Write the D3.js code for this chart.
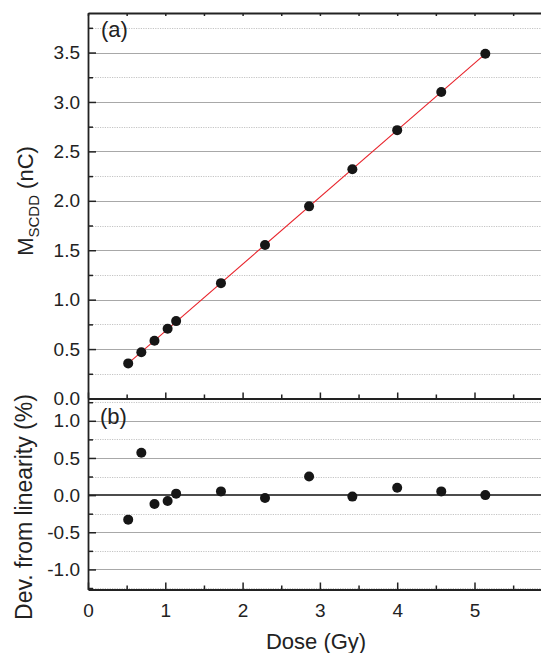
<!DOCTYPE html>
<html>
<head>
<meta charset="utf-8">
<script src="https://cdn.jsdelivr.net/npm/d3@7"></script>
<style>
  html, body { margin: 0; padding: 0; background: #fff; }
  svg { display: block; font-family: "Liberation Sans", Arial, Helvetica, sans-serif; }
  .grid-major { stroke: #a8a8a8; stroke-width: 1; }
  .grid-minor { stroke: #c4c4c4; stroke-width: 1; stroke-dasharray: 1.2 1.2; }
  .axis path, .axis line { stroke: #222; }
</style>
</head>
<body>
<svg id="chart" width="541" height="653"></svg>
<script>
// Dose points (Gy)
const dose = [0.52, 0.69, 0.86, 1.03, 1.14, 1.72, 2.29, 2.86, 3.42, 4.00, 4.57, 5.14];
// Collected charge M_SCDD (nC)
const charge = [0.355, 0.468, 0.585, 0.705, 0.783, 1.167, 1.553, 1.944, 2.319, 2.715, 3.100, 3.487];
// Deviation from the linear fit (%)
const deviation = [-0.33, 0.57, -0.12, -0.08, 0.02, 0.05, -0.04, 0.25, -0.02, 0.10, 0.05, 0.00];
// Linear fit end points
const fitDose = [0.52, 5.14];
const fitCharge = [0.355, 3.487];

// Tick values
const xTicks = [0, 1, 2, 3, 4, 5];
const xMinorTicks = [0.5, 1.5, 2.5, 3.5, 4.5, 5.5];
const yTopTicks = [0, 0.5, 1.0, 1.5, 2.0, 2.5, 3.0, 3.5];
const yTopMinor = [0.25, 0.75, 1.25, 1.75, 2.25, 2.75, 3.25, 3.75];
const yBotTicks = [-1.0, -0.5, 0, 0.5, 1.0];
const yBotMinor = [-1.25, -0.75, -0.25, 0.25, 0.75, 1.25];

const W = 541;
const left = 88;
const svg = d3.select("#chart");

const x = d3.scaleLinear().domain([0, 6]).range([left, left + 6 * 77.3]);
const yTop = d3.scaleLinear().domain([0, 3.9]).range([398.5, 13]);
const yBot = d3.scaleLinear().domain([-1.27, 1.3]).range([589.5, 398.5]);

const fmt = d => d.toFixed(1);

function grid(scale, minor, major) {
  const g = svg.append("g");
  g.selectAll(".mi").data(minor).join("line")
    .attr("class", "grid-minor")
    .attr("x1", left).attr("x2", W)
    .attr("y1", d => Math.round(scale(d)) + 0.5).attr("y2", d => Math.round(scale(d)) + 0.5);
  g.selectAll(".ma").data(major).join("line")
    .attr("class", "grid-major")
    .attr("x1", left).attr("x2", W)
    .attr("y1", d => Math.round(scale(d)) + 0.5).attr("y2", d => Math.round(scale(d)) + 0.5);
}

// Grid lines
grid(yTop, yTopMinor, yTopTicks.filter(d => d > 0));
grid(yBot, yBotMinor, yBotTicks.filter(d => d !== 0));

// Zero reference line in the deviation panel
svg.append("line")
  .attr("x1", left).attr("x2", W)
  .attr("y1", yBot(0)).attr("y2", yBot(0))
  .attr("stroke", "#111").attr("stroke-width", 1.5);

// Axes helper
function styleAxis(g) {
  g.attr("class", "axis");
  g.select(".domain").attr("stroke", "#222").attr("stroke-width", 1.8);
  g.selectAll(".tick line").attr("stroke", "#222").attr("stroke-width", 1.5);
  g.selectAll("text").attr("fill", "#222").attr("font-size", 19)
    .attr("font-family", '"Liberation Sans", Arial, sans-serif');
}

// Left axes (top panel)
svg.append("g").attr("transform", `translate(${left},0)`)
  .call(d3.axisLeft(yTop).tickValues(yTopMinor).tickFormat("").tickSizeInner(-5).tickSizeOuter(0))
  .call(g => { styleAxis(g); g.select(".domain").remove(); });
svg.append("g").attr("transform", `translate(${left},0)`)
  .call(d3.axisLeft(yTop).tickValues(yTopTicks).tickFormat(fmt).tickSizeInner(-8).tickSizeOuter(0).tickPadding(8))
  .call(styleAxis);

// Left axes (bottom panel)
svg.append("g").attr("transform", `translate(${left},0)`)
  .call(d3.axisLeft(yBot).tickValues(yBotMinor).tickFormat("").tickSizeInner(-5).tickSizeOuter(0))
  .call(g => { styleAxis(g); g.select(".domain").remove(); });
svg.append("g").attr("transform", `translate(${left},0)`)
  .call(d3.axisLeft(yBot).tickValues(yBotTicks).tickFormat(fmt).tickSizeInner(-8).tickSizeOuter(0).tickPadding(8))
  .call(styleAxis);

// Top border of the upper panel with small inward ticks
svg.append("g").attr("transform", `translate(0,${yTop(3.9)})`)
  .call(d3.axisTop(x).tickValues(xTicks.concat(xMinorTicks)).tickFormat("").tickSizeInner(-3).tickSizeOuter(0))
  .call(styleAxis);

// Bottom axis of the upper panel (no labels)
svg.append("g").attr("transform", `translate(0,${yTop(0)})`)
  .call(d3.axisBottom(x).tickValues(xMinorTicks).tickFormat("").tickSizeInner(-4).tickSizeOuter(0))
  .call(g => { styleAxis(g); g.select(".domain").remove(); });
svg.append("g").attr("transform", `translate(0,${yTop(0)})`)
  .call(d3.axisBottom(x).tickValues(xTicks).tickFormat("").tickSizeInner(-6).tickSizeOuter(0))
  .call(styleAxis);

// Bottom axis of the lower panel
svg.append("g").attr("transform", `translate(0,${yBot(-1.27)})`)
  .call(d3.axisBottom(x).tickValues(xMinorTicks).tickFormat("").tickSizeInner(-4).tickSizeOuter(0))
  .call(g => { styleAxis(g); g.select(".domain").remove(); });
svg.append("g").attr("transform", `translate(0,${yBot(-1.27)})`)
  .call(d3.axisBottom(x).tickValues(xTicks).tickFormat(d3.format("d")).tickSizeInner(-7).tickSizeOuter(0).tickPadding(14))
  .call(styleAxis);

// Linear fit
svg.append("path")
  .datum(fitDose.map((d, i) => [d, fitCharge[i]]))
  .attr("fill", "none").attr("stroke", "#e8232b").attr("stroke-width", 1.1)
  .attr("d", d3.line().x(d => x(d[0])).y(d => yTop(d[1])));

// Measured charge
svg.append("g").selectAll("circle").data(dose).join("circle")
  .attr("cx", d => x(d)).attr("cy", (d, i) => yTop(charge[i]))
  .attr("r", 5).attr("fill", "#161616");

// Deviation from linearity
svg.append("g").selectAll("circle").data(dose).join("circle")
  .attr("cx", d => x(d)).attr("cy", (d, i) => yBot(deviation[i]))
  .attr("r", 5).attr("fill", "#161616");

// Panel labels
svg.append("text").attr("x", 101).attr("y", 37).attr("font-size", 22).attr("fill", "#222").text("(a)");
svg.append("text").attr("x", 100).attr("y", 424).attr("font-size", 22).attr("fill", "#222").text("(b)");

// Axis titles
svg.append("text").attr("x", x(2.95)).attr("y", 648.5).attr("text-anchor", "middle")
  .attr("font-size", 22).attr("fill", "#222").text("Dose (Gy)");

const mTitle = svg.append("text")
  .attr("transform", "translate(33,201) rotate(-90)")
  .attr("text-anchor", "middle").attr("font-size", 22).attr("fill", "#222");
mTitle.append("tspan").text("M");
mTitle.append("tspan").attr("font-size", 15).attr("dy", 6).text("SCDD");
mTitle.append("tspan").attr("dy", -6).text(" (nC)");

svg.append("text")
  .attr("transform", "translate(32,507) rotate(-90)")
  .attr("text-anchor", "middle").attr("font-size", 23).attr("fill", "#222")
  .text("Dev. from linearity (%)");
</script>
</body>
</html>
